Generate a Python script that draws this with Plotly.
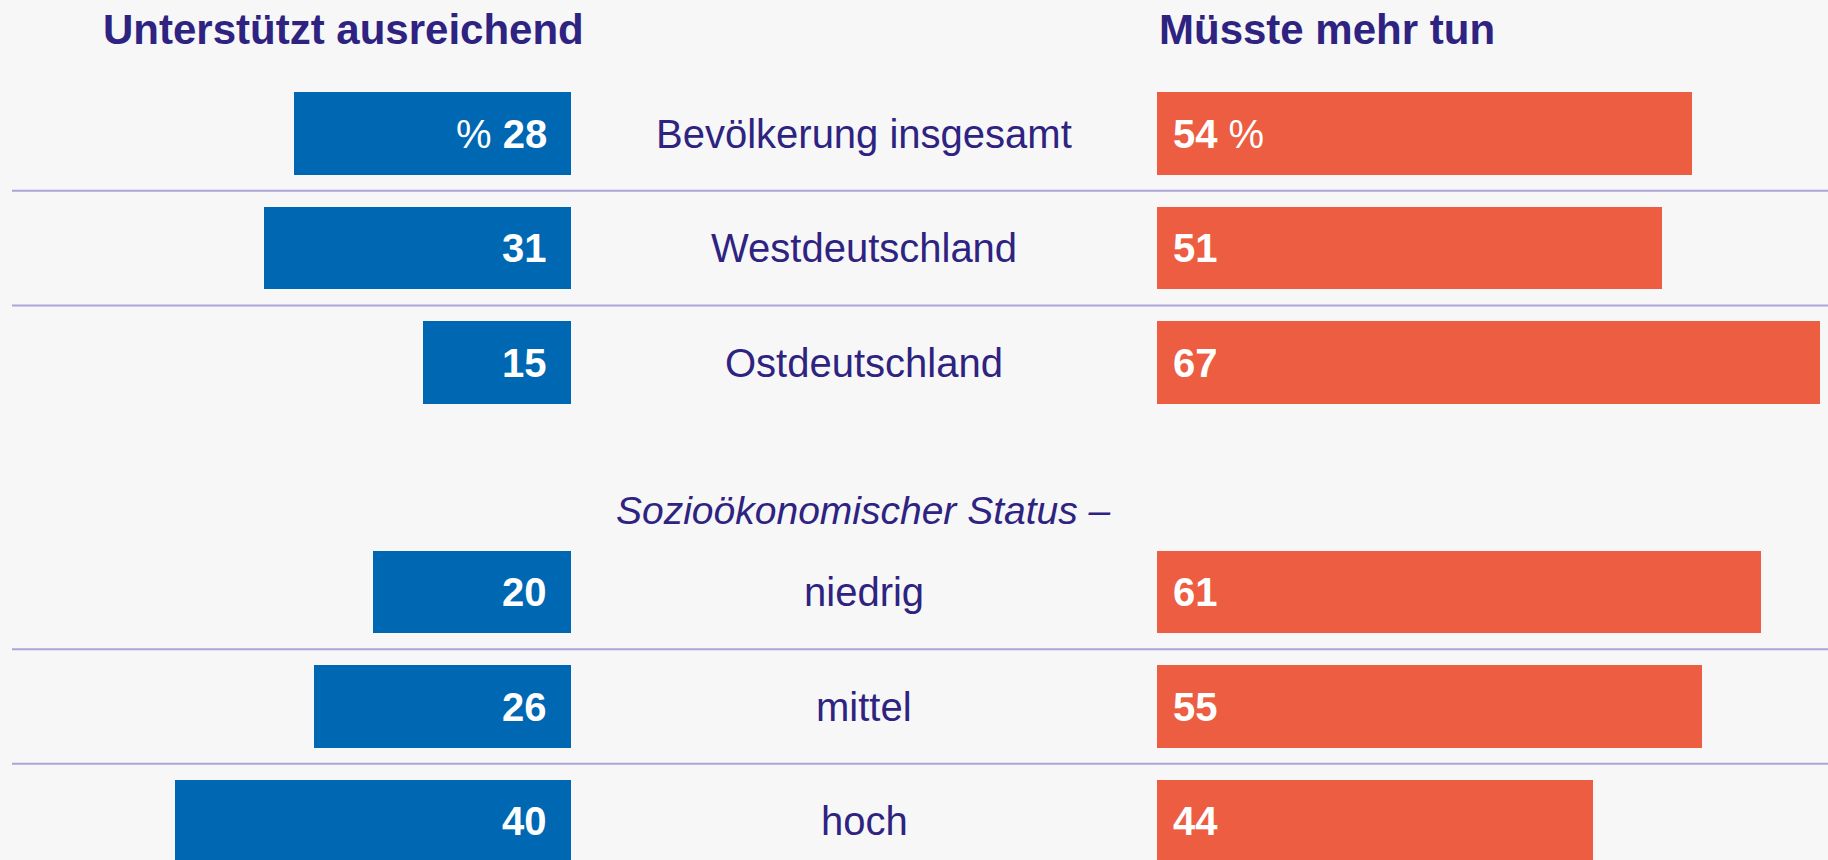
import plotly.graph_objects as go

categories = ["Bevölkerung insgesamt", "Westdeutschland", "Ostdeutschland", " ", "niedrig", "mittel", "hoch"]
bar_categories = ["Bevölkerung insgesamt", "Westdeutschland", "Ostdeutschland", "niedrig", "mittel", "hoch"]
unterstuetzt = [28, 31, 15, 20, 26, 40]
mehr_tun = [54, 51, 67, 61, 55, 44]
header_left = "Unterstützt ausreichend"
header_right = "Müsste mehr tun"
subtitle = "Sozioökonomischer Status –"

BLUE = "#0067b2"
ORANGE = "#ec5d41"
TEXT = "#2e2381"
BG = "#f7f7f7"
LINE = "#aaa6dc"
FONT = "Liberation Sans"

W, H = 1828, 860
px_per_unit = 9.9
left_zero = 571
right_zero = 1157
row0 = 133.5
row_step = 114.6

fig = go.Figure()
fig.add_trace(go.Bar(y=bar_categories, x=unterstuetzt, orientation="h",
                     marker=dict(color=BLUE, line=dict(width=0)), width=0.72,
                     xaxis="x", yaxis="y", hoverinfo="x+y", showlegend=False))
fig.add_trace(go.Bar(y=bar_categories, x=mehr_tun, orientation="h",
                     marker=dict(color=ORANGE, line=dict(width=0)), width=0.72,
                     xaxis="x2", yaxis="y", hoverinfo="x+y", showlegend=False))

annotations = []
for i, (cat, lv, rv) in enumerate(zip(bar_categories, unterstuetzt, mehr_tun)):
    ltxt = f"<b>{lv}</b>" if i else f"% <b>{lv}</b>"
    rtxt = f"<b>{rv}</b>" if i else f"<b>{rv}</b> %"
    annotations.append(dict(x=0, y=cat, xref="x", yref="y", text=ltxt, showarrow=False,
                            xanchor="right", xshift=-22, yanchor="middle",
                            font=dict(family=FONT, size=40, color="white")))
    annotations.append(dict(x=0, y=cat, xref="x2", yref="y", text=rtxt, showarrow=False,
                            xanchor="left", xshift=14, yanchor="middle",
                            font=dict(family=FONT, size=40, color="white")))
    annotations.append(dict(x=(left_zero + right_zero) / 2 / W, y=cat, xref="paper", yref="y",
                            text=cat, showarrow=False, xanchor="center", yanchor="middle",
                            font=dict(family=FONT, size=40, color=TEXT)))

annotations.append(dict(x=101 / W, y=1 - 29 / H, xref="paper", yref="paper", text=f"<b>{header_left}</b>",
                        showarrow=False, xanchor="left", yanchor="middle",
                        font=dict(family=FONT, size=42, color=TEXT)))
annotations.append(dict(x=right_zero / W, y=1 - 29 / H, xref="paper", yref="paper", text=f"<b>{header_right}</b>",
                        showarrow=False, xanchor="left", yanchor="middle",
                        font=dict(family=FONT, size=42, color=TEXT)))
annotations.append(dict(x=863 / W, y=1 - 510 / H, xref="paper", yref="paper", text=f"<i>{subtitle}</i>",
                        showarrow=False, xanchor="center", yanchor="middle",
                        font=dict(family=FONT, size=39, color=TEXT)))

shapes = []
for yv in [0.5, 1.5, 4.5, 5.5]:
    shapes.append(dict(type="line", xref="paper", yref="y", x0=12 / W, x1=1, y0=yv, y1=yv,
                       line=dict(color=LINE, width=2)))

y_top = -row0 / row_step
y_bot = (H - row0) / row_step

fig.update_layout(
    width=W, height=H,
    margin=dict(l=0, r=0, t=0, b=0),
    paper_bgcolor=BG, plot_bgcolor=BG,
    bargap=0,
    xaxis=dict(domain=[0, left_zero / W], range=[left_zero / px_per_unit, 0], visible=False, fixedrange=True),
    xaxis2=dict(domain=[right_zero / W, 1], range=[0, (W - right_zero) / px_per_unit], visible=False, fixedrange=True),
    yaxis=dict(type="category", categoryorder="array", categoryarray=categories,
               range=[y_bot, y_top], visible=False, fixedrange=True),
    annotations=annotations,
    shapes=shapes,
)

fig.write_html("out.html", config={"displayModeBar": False},
               post_script="document.body.style.margin='0';document.body.style.overflow='hidden';document.body.style.background='#f7f7f7';")
